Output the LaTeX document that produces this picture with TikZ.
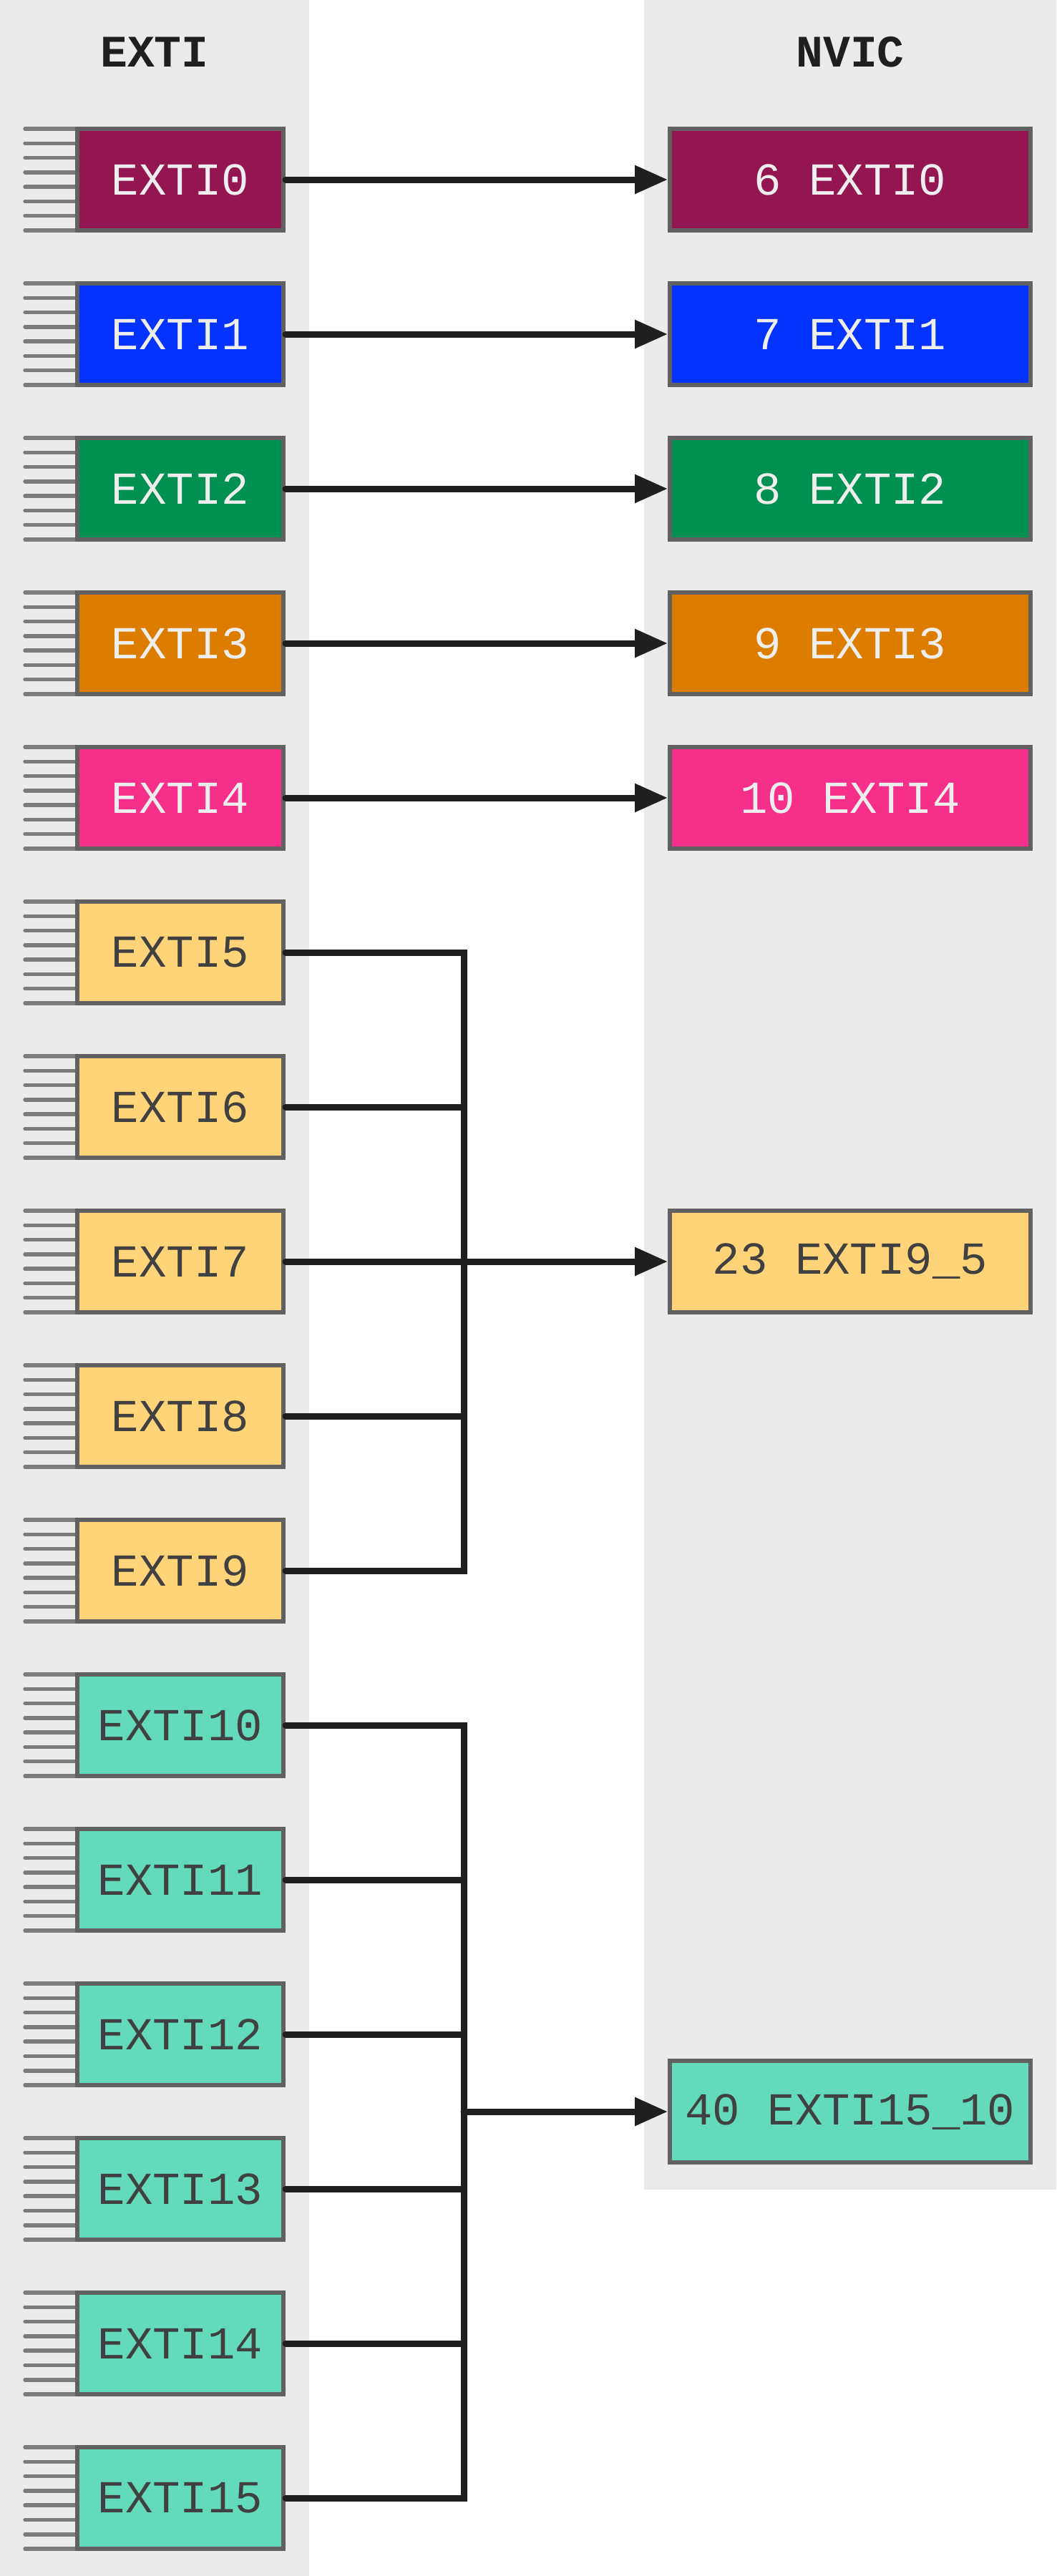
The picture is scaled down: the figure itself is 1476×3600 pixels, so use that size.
\documentclass[tikz,border=0pt]{standalone}
\usepackage{fontspec}
\setmonofont{Liberation Mono}
\usetikzlibrary{arrows.meta}
\definecolor{panel}{HTML}{EBEBEB}
\definecolor{border}{HTML}{616161}
\definecolor{pincol}{HTML}{7C7C7C}
\definecolor{wirecol}{HTML}{1F1F1F}
\definecolor{ltxt}{HTML}{EEEEEE}
\definecolor{dtxt}{HTML}{404040}
\definecolor{cA}{HTML}{941651}
\definecolor{cB}{HTML}{0433FF}
\definecolor{cC}{HTML}{009051}
\definecolor{cD}{HTML}{DC7D00}
\definecolor{cE}{HTML}{F52F8A}
\definecolor{cF}{HTML}{FFD479}
\definecolor{cG}{HTML}{63DBBB}
\begin{document}
\begin{tikzpicture}[x=1pt,y=-1pt,
  ebox/.style 2 args={draw=border, line width=6pt, fill=#1, text=#2,
    minimum width=288pt, minimum height=142pt, inner sep=0pt,
    font=\ttfamily\fontsize{64}{70}\selectfont},
  nbox/.style 2 args={draw=border, line width=6pt, fill=#1, text=#2,
    minimum width=504pt, minimum height=142pt, inner sep=0pt,
    font=\ttfamily\fontsize{64}{70}\selectfont},
  pinline/.style={draw=pincol, line width=5.5pt, line cap=round},
  wire/.style={draw=wirecol, line width=9pt, line cap=round},
  arrowwire/.style={wire, -{Triangle[length=46pt,width=38pt]}},
  title/.style={text=wirecol, font=\ttfamily\bfseries\fontsize{63}{70}\selectfont}
]
\useasboundingbox (0,0) rectangle (1476,3600);
\fill[white] (0,0) rectangle (1476,3600);
\fill[panel] (0,0) rectangle (432,3600);
\fill[panel] (900,0) rectangle (1476,3060);
\node[title] (t1) at (216,73) {EXTI};
\node[title] (t2) at (1188,73) {NVIC};
% pins
\foreach \i in {0,...,15}{
  \foreach \k in {0,...,7}{
    \draw[pinline] (35,{180+216*\i+\k*142/7}) -- (108,{180+216*\i+\k*142/7});
  }
}
% EXTI boxes
\foreach \i/\c/\t in {0/cA/ltxt,1/cB/ltxt,2/cC/ltxt,3/cD/ltxt,4/cE/ltxt,
  5/cF/dtxt,6/cF/dtxt,7/cF/dtxt,8/cF/dtxt,9/cF/dtxt,
  10/cG/dtxt,11/cG/dtxt,12/cG/dtxt,13/cG/dtxt,14/cG/dtxt,15/cG/dtxt}{
  \node[ebox={\c}{\t}] (e\i) at (252,{251+216*\i}) {EXTI\i};
}
% NVIC boxes
\foreach \i/\n/\c in {0/6/cA,1/7/cB,2/8/cC,3/9/cD,4/10/cE}{
  \node[nbox={\c}{ltxt}] (n\i) at (1188,{251+216*\i}) {\n{} EXTI\i};
}
\node[nbox={cF}{dtxt}] (n23) at (1188,1763) {23 EXTI9\_5};
\node[nbox={cG}{dtxt}] (n40) at (1188,2951) {40 EXTI15\_10};
% direct arrows
\foreach \i in {0,...,4}{
  \draw[arrowwire] (e\i.east) -- (n\i.west);
}
% bus 5-9
\coordinate (b1) at (648,0);
\draw[wire] (e5.east) -| (e9.east -| b1) -- (e9.east);
\foreach \i in {6,8}{
  \draw[wire] (e\i.east) -- (e\i.east -| b1);
}
\draw[arrowwire] (e7.east) -- (n23.west);
% bus 10-15
\coordinate (b2) at (648,0);
\draw[wire] (e10.east) -| (e15.east -| b2) -- (e15.east);
\foreach \i in {11,...,14}{
  \draw[wire] (e\i.east) -- (e\i.east -| b2);
}
\coordinate (j2) at (n40.west -| b2);
\draw[arrowwire] (j2) -- (n40.west);
\end{tikzpicture}
\end{document}
